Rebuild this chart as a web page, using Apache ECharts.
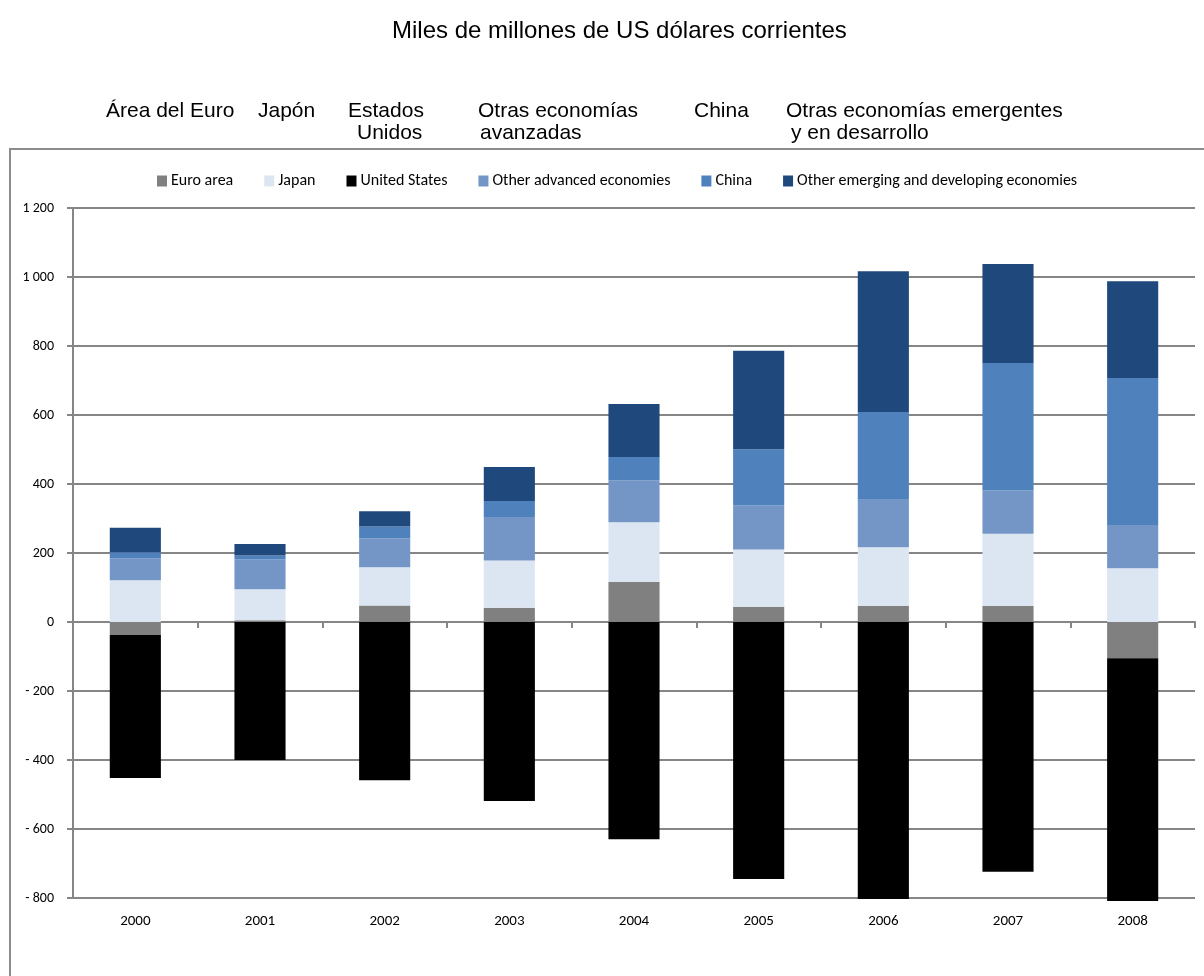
<!DOCTYPE html>
<html>
<head>
<meta charset="utf-8">
<script src="https://cdn.jsdelivr.net/npm/echarts@6/dist/echarts.min.js"></script>
<style>
  html, body { margin: 0; padding: 0; background: #fff; }
  #chart { width: 1204px; height: 976px; }
</style>
</head>
<body>
<div id="chart"></div>
<script>
// values in billions of current US dollars
var years = ['2000', '2001', '2002', '2003', '2004', '2005', '2006', '2007', '2008']
var euroArea = [-38, 5, 48, 41, 116, 44, 47, 47, -105]
var japan = [121, 90, 111, 137, 173, 166, 170, 209, 156]
var unitedStates = [-414, -400, -459, -519, -630, -745, -803, -724, -704]
var otherAdvanced = [64, 86, 84, 126, 122, 128, 137, 125, 125]
var china = [17, 12, 34, 47, 67, 163, 255, 370, 426]
var otherEmerging = [71, 33, 44, 98, 154, 285, 408, 287, 281]

var seriesNames = ['Euro area', 'Japan', 'United States', 'Other advanced economies', 'China', 'Other emerging and developing economies']
var seriesColors = ['#808080', '#dce6f2', '#000000', '#7396c7', '#4f81bd', '#1f497d']
var seriesData = [euroArea, japan, unitedStates, otherAdvanced, china, otherEmerging]

var headerLabels = [
  { text: 'Área del Euro', x: 106, y: 111 },
  { text: 'Japón', x: 258, y: 111 },
  { text: 'Estados', x: 348, y: 111 },
  { text: 'Unidos', x: 357, y: 133 },
  { text: 'Otras economías', x: 478, y: 111 },
  { text: 'avanzadas', x: 480, y: 133 },
  { text: 'China', x: 694, y: 111 },
  { text: 'Otras economías emergentes', x: 786, y: 111 },
  { text: 'y en desarrollo', x: 791, y: 133 }
]

var smallFont = 'Carlito, "Liberation Sans Narrow", "DejaVu Sans Condensed", sans-serif'
var bigFont = '"Liberation Sans", Arial, sans-serif'

function fmtNum(v) {
  var s = String(Math.abs(v)).replace(/\B(?=(\d{3})+(?!\d))/g, ' ')
  return v < 0 ? '- ' + s : s
}

var chart = echarts.init(document.getElementById('chart'))

chart.setOption({
  animation: false,
  title: {
    text: 'Miles de millones de US dólares corrientes',
    left: 387,
    top: 14,
    textStyle: { fontFamily: bigFont, fontSize: 24, fontWeight: 'normal', color: '#000' }
  },
  graphic: [
    {
      type: 'rect',
      shape: { x: 10, y: 149, width: 1220, height: 860 },
      style: { fill: 'none', stroke: '#8c8c8c', lineWidth: 2 },
      silent: true
    }
  ].concat(headerLabels.map(function (h) {
    return {
      type: 'text',
      x: h.x,
      y: h.y,
      style: {
        text: h.text,
        fontFamily: bigFont,
        fontSize: 21,
        fill: '#000',
        verticalAlign: 'middle'
      }
    }
  })),
  legend: {
    top: 168,
    left: 152,
    itemWidth: 10,
    itemHeight: 11,
    itemGap: 31,
    icon: 'rect',
    textStyle: { fontFamily: smallFont, fontSize: 16, color: '#000', padding: [0, 0, 0, -1] },
    data: seriesNames
  },
  grid: {
    left: 73,
    right: 9,
    top: 208,
    bottom: 78
  },
  xAxis: [
    {
      type: 'category',
      data: years,
      position: 'bottom',
      axisLine: { show: false, onZero: false },
      axisTick: { show: false },
      axisLabel: { fontFamily: smallFont, fontSize: 15, color: '#000', margin: 16 }
    },
    {
      type: 'category',
      data: years,
      position: 'bottom',
      axisLine: { show: true, onZero: true, onZeroAxisIndex: 0, lineStyle: { color: '#868686', width: 2 } },
      axisTick: { show: true, length: 6, lineStyle: { color: '#868686', width: 2 } },
      axisLabel: { show: false }
    }
  ],
  yAxis: {
    type: 'value',
    min: -800,
    max: 1200,
    interval: 200,
    axisLine: { show: true, lineStyle: { color: '#868686', width: 2 } },
    axisTick: { show: true, length: 6, lineStyle: { color: '#868686', width: 2 } },
    axisLabel: {
      fontFamily: smallFont,
      fontSize: 14,
      color: '#000',
      margin: 19,
      formatter: fmtNum
    },
    splitLine: { lineStyle: { color: '#868686', width: 2 } }
  },
  series: seriesNames.map(function (name, i) {
    return {
      name: name,
      type: 'bar',
      stack: 'total',
      barWidth: '41%',
      clip: false,
      data: seriesData[i],
      itemStyle: { color: seriesColors[i] }
    }
  })
})
</script>
</body>
</html>
